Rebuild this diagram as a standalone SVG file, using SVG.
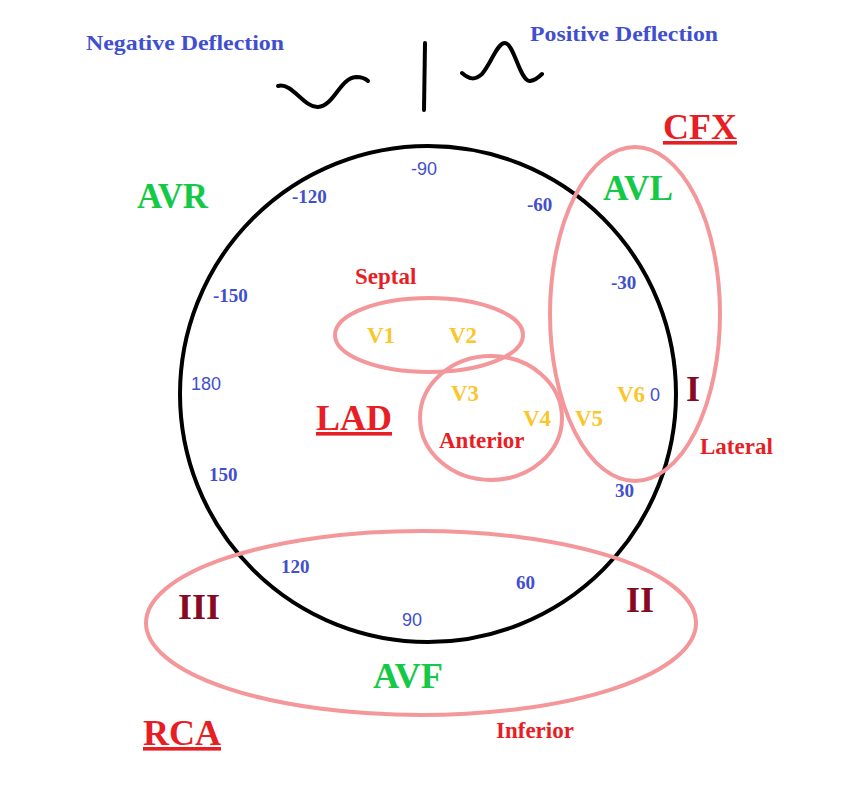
<svg xmlns="http://www.w3.org/2000/svg" width="851" height="805" viewBox="0 0 851 805">
<style>
.ser{font-family:"Liberation Serif","Times New Roman",serif;font-weight:bold}
.sans{font-family:"Liberation Sans",Arial,sans-serif}
.blue{fill:#3f4fcf}
.head{font-size:22px}
.big{font-size:36px}
.green{fill:#14c946}
.red{fill:#e81e25}
.dred{fill:#870a22}
.yel{fill:#fbc62b;font-size:23px}
.reg{font-size:23px}
.num{font-size:19px}
.snum{font-size:18px}
.ring{fill:none;stroke:#f4979b;stroke-width:4}
.ink{fill:none;stroke:#000;stroke-width:4;stroke-linecap:round}
</style>
<rect width="851" height="805" fill="#fff"/>
<g id="legend">
<text class="ser blue head" x="86" y="50" textLength="198" lengthAdjust="spacingAndGlyphs">Negative Deflection</text>
<text class="ser blue head" x="530" y="41" textLength="188" lengthAdjust="spacingAndGlyphs">Positive Deflection</text>
<path class="ink" d="M278,86 C292,82 304,108 318,107 C334,106 340,78 356,77 C362,77 366,79 368,81" stroke-width="3.5"/>
<path class="ink" d="M425,43 L424,110"/>
<path class="ink" d="M462,73 C470,80 475,80 482,74 C492,62 497,43 505,43 C514,43 520,82 530,81 C536,80 540,76 542,74" stroke-width="3.5"/>
</g>
<g id="axis-circle">
<circle class="ink" cx="428" cy="394" r="248"/>
</g>
<g id="regions">
<ellipse id="septal-ring" class="ring" cx="429" cy="335" rx="94" ry="37"/>
<ellipse id="anterior-ring" class="ring" cx="491" cy="418" rx="71" ry="62"/>
<ellipse id="lateral-ring" class="ring" cx="635" cy="314" rx="85" ry="167"/>
<ellipse id="inferior-ring" class="ring" cx="421" cy="623" rx="275" ry="92"/>
</g>
<g id="degrees">
<text class="sans blue snum" x="424" y="175" text-anchor="middle">-90</text>
<text class="ser blue num" x="292" y="203">-120</text>
<text class="ser blue num" x="527" y="211">-60</text>
<text class="ser blue num" x="213" y="302">-150</text>
<text class="ser blue num" x="611" y="289">-30</text>
<text class="sans blue snum" x="191" y="390">180</text>
<text class="sans blue snum" x="650" y="401">0</text>
<text class="ser blue num" x="209" y="481">150</text>
<text class="ser blue num" x="615" y="497">30</text>
<text class="ser blue num" x="281" y="573">120</text>
<text class="ser blue num" x="516" y="589">60</text>
<text class="sans blue snum" x="402" y="626">90</text>
</g>
<g id="leads">
<text class="ser big green" x="137" y="208" textLength="71" lengthAdjust="spacingAndGlyphs">AVR</text>
<text class="ser big green" x="603" y="200" textLength="70" lengthAdjust="spacingAndGlyphs">AVL</text>
<text class="ser big green" x="373" y="688" textLength="70" lengthAdjust="spacingAndGlyphs">AVF</text>
<text class="ser big dred" x="686" y="401">I</text>
<text class="ser big dred" x="626" y="612">II</text>
<text class="ser big dred" x="178" y="619">III</text>
<text class="ser yel" x="367" y="343">V1</text>
<text class="ser yel" x="449" y="343">V2</text>
<text class="ser yel" x="451" y="401">V3</text>
<text class="ser yel" x="523" y="426">V4</text>
<text class="ser yel" x="575" y="426">V5</text>
<text class="ser yel" x="617" y="402">V6</text>
</g>
<g id="region-labels">
<text class="ser red reg" x="355" y="284">Septal</text>
<text class="ser red reg" x="439" y="448">Anterior</text>
<text class="ser red reg" x="700" y="454">Lateral</text>
<text class="ser red reg" x="496" y="738">Inferior</text>
</g>
<g id="arteries">
<text class="ser big red" x="663" y="139" text-decoration="underline">CFX</text>
<text class="ser big red" x="316" y="430" text-decoration="underline">LAD</text>
<text class="ser big red" x="143" y="745" text-decoration="underline">RCA</text>
</g>
</svg>
